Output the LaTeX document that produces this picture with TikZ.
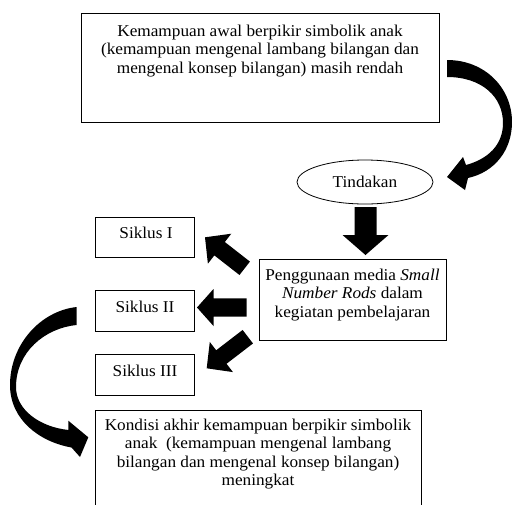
\documentclass[tikz,border=0pt]{standalone}
\usepackage{fontspec}
\setmainfont{Liberation Serif}[FakeStretch=1.045]
\usetikzlibrary{calc,shapes.geometric}
\newcommand\BlkArrow[5]{% tail, tip, half shaft, half head, head length
  \coordinate (bh) at ($(#2)!#5!(#1)$);
  \fill ($(#1)!#3!90:(#2)$) -- ($(bh)!#3!90:(#2)$) -- ($(bh)!#4!90:(#2)$) -- (#2)
     -- ($(bh)!#4!-90:(#2)$) -- ($(bh)!#3!-90:(#2)$) -- ($(#1)!#3!-90:(#2)$) -- cycle;
}
\tikzset{
  box/.style={draw, line width=0.8pt, inner sep=0pt, outer sep=0pt},
  txt/.style={font=\fontsize{16.5}{18.5}\selectfont, align=center, inner sep=0pt},
}
\begin{document}
\begin{tikzpicture}[x=1pt, y=-1pt]
\useasboundingbox (0,0) rectangle (512,504);

% top box
\node[box, minimum width=358pt, minimum height=109pt] (top) at (260,67.5) {};
\node[txt, anchor=north] (toptext) at (260,24.4) {Kemampuan awal berpikir simbolik anak\\(kemampuan mengenal lambang bilangan dan\\mengenal konsep bilangan) masih rendah};

% ellipse
\node[ellipse, draw, line width=0.8pt, minimum width=136pt, minimum height=44pt, inner sep=0pt, font=\fontsize{16.5}{18.5}\selectfont] (tind) at (365,182) {Tindakan};

% media box
\node[box, minimum width=187pt, minimum height=81pt] (media) at (352.5,299.5) {};
\node[txt, anchor=north] (mediatext) at (352.5,268.7) {Penggunaan media \textit{Small}\\\textit{Number Rods} dalam\\kegiatan pembelajaran};

% siklus boxes
\node[box, minimum width=99pt, minimum height=40pt] (s1) at (144.5,237) {};
\node[txt, anchor=base] (s1t) at (146,238.3) {Siklus I};
\node[box, minimum width=99pt, minimum height=41pt] (s2) at (144.5,310.5) {};
\node[txt, anchor=base] (s2t) at (145,312.7) {Siklus II};
\node[box, minimum width=99pt, minimum height=41pt] (s3) at (144.5,374.5) {};
\node[txt, anchor=base] (s3t) at (145,376.7) {Siklus III};

% bottom box
\begin{scope}
\clip (0,0) rectangle (512,504);
\node[box, minimum width=326pt, minimum height=110pt] (bot) at (258,465) {};
\end{scope}
\node[txt, anchor=north] (bottext) at (258,418.7) {Kondisi akhir kemampuan berpikir simbolik\\anak~ (kemampuan mengenal lambang\\bilangan dan mengenal konsep bilangan)\\meningkat};

% block arrows
\coordinate (dA) at (365.5,207);   \coordinate (dB) at (365.5,255);
\BlkArrow{dA}{dB}{11pt}{23pt}{20pt}
\coordinate (aA) at (244.7,268.3); \coordinate (aB) at (205,237.3);
\BlkArrow{aA}{aB}{8.5pt}{19pt}{18.5pt}
\coordinate (bA) at (246.7,307.5); \coordinate (bB) at (197,307.5);
\BlkArrow{bA}{bB}{9.2pt}{18.5pt}{16.5pt}
\coordinate (cA) at (247.8,336.7); \coordinate (cB) at (206.7,368.3);
\BlkArrow{cA}{cB}{8.5pt}{19pt}{18.5pt}

% curved arrow right
\fill (447,60) .. controls (485,60) and (512,88) .. (512,122)
  .. controls (512,150) and (495,172) .. (468,178) -- (465,190) -- (447,177) -- (463,157) -- (466,165)
  .. controls (488,159) and (503,145) .. (503,123)
  .. controls (503,97) and (482,77) .. (447,77) -- cycle;

% curved arrow left
\fill (76.7,307) .. controls (40,311) and (10,345) .. (10,385)
  .. controls (10,420) and (40,442) .. (71.5,447.5) -- (80,457) -- (88.3,437.3) -- (68.3,420.7) -- (68.5,430)
  .. controls (40,427) and (16,410) .. (16,387)
  .. controls (16,352) and (45,328) .. (76.7,325) -- cycle;
\end{tikzpicture}
\end{document}
